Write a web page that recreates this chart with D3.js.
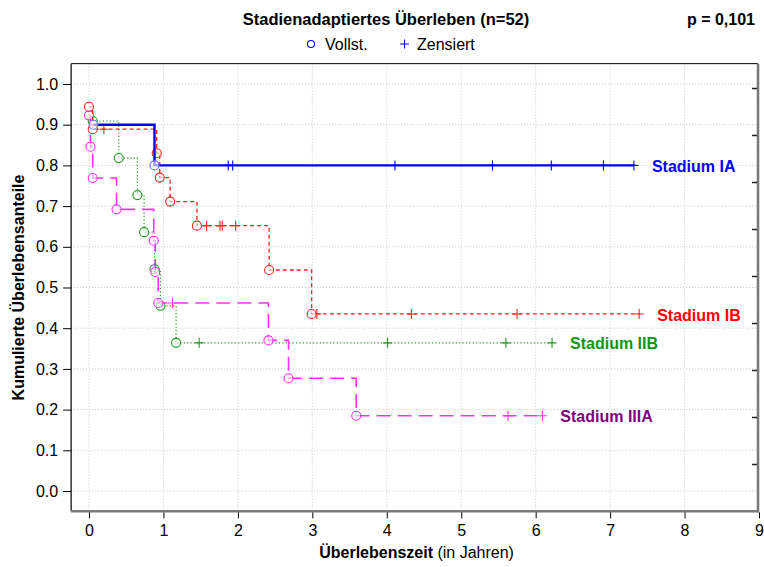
<!DOCTYPE html>
<html>
<head>
<meta charset="utf-8">
<script src="https://cdn.jsdelivr.net/npm/d3@7"></script>
<style>
  body { margin: 0; background: #fff; }
  text { font-family: "Liberation Sans", Arial, sans-serif; }
</style>
</head>
<body>
<svg id="chart" width="764" height="567"></svg>
<script>
// tick values
const xTicks = [0, 1, 2, 3, 4, 5, 6, 7, 8, 9];
const yTicks = [0, 0.1, 0.2, 0.3, 0.4, 0.5, 0.6, 0.7, 0.8, 0.9, 1.0];
const rightTicks = [1, 2, 3, 4, 5, 6, 7, 8, 9]; // decorative ticks on the right frame

// Stadium IA
const iaTime  = [0.06, 0.88, 1.87, 1.93, 4.11, 5.42, 6.21, 6.91, 7.32];
const iaSurv  = [0.90, 0.80, 0.80, 0.80, 0.80, 0.80, 0.80, 0.80, 0.80];
const iaEvent = [1, 1, 0, 0, 0, 0, 0, 0, 0];

// Stadium IB
const ibTime  = [0.00, 0.05, 0.20, 0.91, 0.95, 1.09, 1.45, 1.58, 1.76, 1.79, 1.97, 2.42, 2.99, 3.06, 4.33, 5.75, 7.39];
const ibSurv  = [0.944, 0.889, 0.889, 0.830, 0.770, 0.711, 0.652, 0.652, 0.652, 0.652, 0.652, 0.543, 0.435, 0.435, 0.435, 0.435, 0.435];
const ibEvent = [1, 1, 0, 1, 1, 1, 1, 0, 0, 0, 0, 1, 1, 0, 0, 0, 0];

// Stadium IIB
const iibTime  = [0.05, 0.40, 0.65, 0.74, 0.88, 0.96, 1.17, 1.48, 4.01, 5.60, 6.22];
const iibSurv  = [0.909, 0.818, 0.727, 0.636, 0.545, 0.455, 0.364, 0.364, 0.364, 0.364, 0.364];
const iibEvent = [1, 1, 1, 1, 1, 1, 1, 0, 0, 0, 0];

// Stadium IIIA
const iiiaTime  = [0.00, 0.02, 0.05, 0.37, 0.87, 0.89, 0.93, 1.12, 2.41, 2.68, 3.59, 5.63, 6.09];
const iiiaSurv  = [0.923, 0.846, 0.769, 0.692, 0.615, 0.538, 0.462, 0.462, 0.370, 0.277, 0.185, 0.185, 0.185];
const iiiaEvent = [1, 1, 1, 1, 1, 1, 1, 0, 1, 1, 1, 0, 0];

const labels = ["Stadium IA", "Stadium IB", "Stadium IIB", "Stadium IIIA"];

// build series table (drawing order: green, magenta, red, blue)
const series = [
  {name: labels[2], time: iibTime, surv: iibSurv, ev: iibEvent, color: "#1f9a1f", label: "#0f960f", width: 1.2, dash: "1.2,2.2"},
  {name: labels[3], time: iiiaTime, surv: iiiaSurv, ev: iiiaEvent, color: "#ff30ff", label: "#800080", width: 1.6, dash: "14,7"},
  {name: labels[1], time: ibTime, surv: ibSurv, ev: ibEvent, color: "#ff2020", label: "#ff0000", width: 1.3, dash: "4,3"},
  {name: labels[0], time: iaTime, surv: iaSurv, ev: iaEvent, color: "#0000ff", label: "#0000ff", width: 2.4, dash: null}
];

const svg = d3.select("#chart");

const x = d3.scaleLinear().domain([0, 9]).range([89, 759]);
const y = d3.scaleLinear().domain([0, 1]).range([491, 84]);
const yR = d3.scaleLinear().domain([0, 9.5]).range([511, 64.5]);

const pLeft = x(-0.24), pRight = x(9) - 1, pTop = y(1.05), pBottom = y(-0.05);

// grid
svg.append("g")
  .selectAll("line")
  .data(xTicks)
  .join("line")
  .attr("x1", d => x(d)).attr("x2", d => x(d))
  .attr("y1", pTop).attr("y2", pBottom)
  .attr("stroke", "#c8c8c8")
  .attr("stroke-dasharray", "1,2");

svg.append("g")
  .selectAll("line")
  .data(yTicks)
  .join("line")
  .attr("x1", pLeft).attr("x2", pRight)
  .attr("y1", d => y(d)).attr("y2", d => y(d))
  .attr("stroke", "#c8c8c8")
  .attr("stroke-dasharray", "1,2");

// frame
svg.append("line").attr("x1", pLeft).attr("x2", pRight).attr("y1", pTop).attr("y2", pTop)
  .attr("stroke", "#000").attr("stroke-width", 1);
svg.append("line").attr("x1", pLeft).attr("x2", pLeft).attr("y1", pTop).attr("y2", pBottom)
  .attr("stroke", "#000").attr("stroke-width", 1.2);
svg.append("line").attr("x1", pRight).attr("x2", pRight).attr("y1", pTop).attr("y2", pBottom + 1)
  .attr("stroke", "#7a7a7a").attr("stroke-width", 2.5);
svg.append("line").attr("x1", pLeft).attr("x2", pRight + 1).attr("y1", pBottom).attr("y2", pBottom)
  .attr("stroke", "#7a7a7a").attr("stroke-width", 2.5);

// axes
const yAxis = d3.axisLeft(y).tickValues(yTicks).tickFormat(d3.format(".1f")).tickSize(8).tickPadding(5);
svg.append("g")
  .attr("transform", "translate(" + pLeft + ",0)")
  .call(yAxis)
  .call(g => g.select(".domain").remove())
  .call(g => g.selectAll("text").style("font-family", "Liberation Sans").style("font-size", "16px").attr("fill", "#000"));

const xAxis = d3.axisBottom(x).tickValues(xTicks).tickSize(6).tickPadding(6);
svg.append("g")
  .attr("transform", "translate(0," + (pBottom + 1) + ")")
  .call(xAxis)
  .call(g => g.select(".domain").remove())
  .call(g => g.selectAll("text").style("font-family", "Liberation Sans").style("font-size", "16px").attr("fill", "#000"));

const rAxis = d3.axisLeft(yR).tickValues(rightTicks).tickFormat("").tickSize(5);
svg.append("g")
  .attr("transform", "translate(" + (pRight - 1) + ",0)")
  .call(rAxis)
  .call(g => g.select(".domain").remove())
  .selectAll("line").attr("stroke", "#222").attr("stroke-width", 1.5);

// curves
const line = d3.line()
  .x(d => x(d.t))
  .y(d => y(d.s))
  .curve(d3.curveStepAfter);

series.forEach(s => {
  const pts = s.time.map((t, i) => ({t: t, s: s.surv[i], e: s.ev[i]}));
  const g = svg.append("g");

  g.append("path")
    .datum(pts)
    .attr("d", line)
    .attr("fill", "none")
    .attr("stroke", s.color)
    .attr("stroke-width", s.width)
    .attr("stroke-dasharray", s.dash);

  // censored
  g.selectAll("path.cens")
    .data(pts.filter(d => d.e === 0))
    .join("path")
    .attr("class", "cens")
    .attr("d", d => "M" + (x(d.t) - 4.5) + "," + y(d.s) + "h9M" + x(d.t) + "," + (y(d.s) - 5) + "v10")
    .attr("stroke", s.color)
    .attr("stroke-width", 1.1)
    .attr("fill", "none");

  // complete
  g.selectAll("circle")
    .data(pts.filter(d => d.e === 1))
    .join("circle")
    .attr("cx", d => x(d.t))
    .attr("cy", d => y(d.s))
    .attr("r", 4.5)
    .attr("fill", "#fff")
    .attr("fill-opacity", 0.6)
    .attr("stroke", s.name === "Stadium IA" ? "#6b6bff" : s.color)
    .attr("stroke-width", 1.1);

  const last = pts[pts.length - 1];
  svg.append("text")
    .attr("x", x(last.t) + 18)
    .attr("y", y(last.s) + 1)
    .attr("dy", "0.35em")
    .attr("fill", s.label)
    .style("font-size", "16px")
    .style("font-weight", "bold")
    .text(s.name);
});

// title
svg.append("text")
  .attr("x", 386)
  .attr("y", 25)
  .attr("text-anchor", "middle")
  .style("font-size", "16.5px")
  .style("font-weight", "bold")
  .text("Stadienadaptiertes Überleben (n=52)");

svg.append("text")
  .attr("x", 755)
  .attr("y", 25)
  .attr("text-anchor", "end")
  .style("font-size", "16px")
  .style("font-weight", "bold")
  .text("p = 0,101");

// legend
svg.append("circle").attr("cx", 311).attr("cy", 44).attr("r", 3.5)
  .attr("fill", "none").attr("stroke", "#0000ff").attr("stroke-width", 1.1);
svg.append("text").attr("x", 325).attr("y", 50).style("font-size", "16px").text("Vollst.");
svg.append("path").attr("d", "M400,44h9M404.5,39.5v9").attr("stroke", "#0000ff").attr("stroke-width", 1.1);
svg.append("text").attr("x", 417).attr("y", 50).style("font-size", "16px").text("Zensiert");

// axis titles
svg.append("text")
  .attr("transform", "translate(24," + ((pTop + pBottom) / 2) + ") rotate(-90)")
  .attr("text-anchor", "middle")
  .style("font-size", "16px")
  .style("font-weight", "bold")
  .text("Kumulierte Überlebensanteile");

const xt = svg.append("text")
  .attr("x", (pLeft + pRight) / 2 + 2)
  .attr("y", 558)
  .attr("text-anchor", "middle")
  .style("font-size", "16px");
xt.append("tspan").style("font-weight", "bold").text("Überlebenszeit");
xt.append("tspan").text(" (in Jahren)");
</script>
</body>
</html>
